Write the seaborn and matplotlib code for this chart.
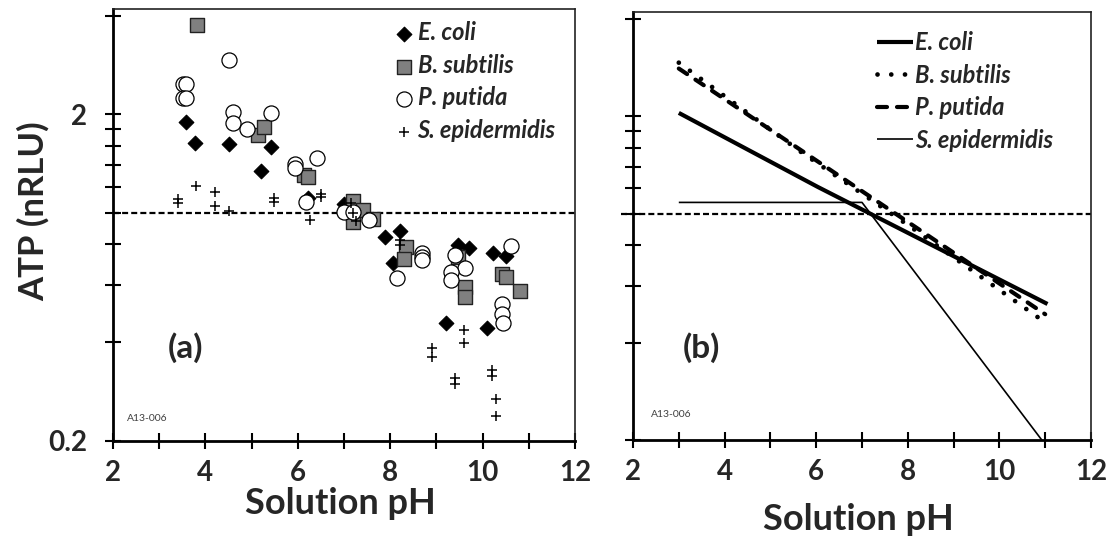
import matplotlib
matplotlib.use("Agg")
import matplotlib.pyplot as plt
from matplotlib.ticker import NullFormatter
import seaborn as sns
import pandas as pd

# ---------------- data: panel (a) measured points ----------------
ecoli_ph = [3.57, 3.77, 4.51, 5.41, 5.21, 6.23, 6.99, 7.89, 8.21, 8.05,
            9.47, 9.71, 10.23, 10.51, 9.21, 10.10]
ecoli_atp = [1.895, 1.634, 1.619, 1.589, 1.338, 1.111, 1.065, 0.842, 0.878, 0.698,
             0.798, 0.776, 0.749, 0.735, 0.459, 0.444]

bsub_ph = [3.81, 5.14, 5.27, 6.13, 6.21, 7.20, 7.20, 7.20, 7.42, 7.62,
           8.34, 8.30, 9.47, 9.62, 9.62, 10.41, 10.51, 10.81]
bsub_atp = [3.75, 1.725, 1.829, 1.301, 1.285, 1.085, 0.99, 0.936, 1.016, 0.958,
            0.785, 0.718, 0.731, 0.592, 0.551, 0.650, 0.635, 0.574]

pput_ph = [3.52, 3.58, 3.52, 3.58, 4.51, 4.60, 4.60, 4.89, 5.41, 5.94,
           5.94, 6.41, 6.17, 7.00, 7.20, 7.55, 8.68, 8.68, 8.68, 8.14,
           9.40, 9.62, 9.31, 9.31, 10.61, 10.41, 10.41, 10.45]
pput_atp = [2.48, 2.48, 2.25, 2.25, 2.94, 2.04, 1.88, 1.80, 2.02, 1.41,
            1.37, 1.47, 1.075, 1.004, 1.004, 0.947, 0.749, 0.731, 0.714, 0.630,
            0.743, 0.676, 0.658, 0.623, 0.788, 0.526, 0.487, 0.457]

sepi_ph = [3.41, 3.41, 3.80, 4.21, 4.21, 4.51, 5.49, 5.49, 6.26, 6.50,
           6.50, 7.15, 7.20, 7.25, 8.21, 8.21, 9.60, 9.60, 8.91, 8.91,
           9.41, 9.41, 10.20, 10.20, 10.30, 10.30]
sepi_atp = [1.104, 1.07, 1.204, 1.156, 1.045, 1.009, 1.108, 1.077, 0.947, 1.143,
            1.117, 1.07, 1.0, 0.94, 0.823, 0.794, 0.436, 0.399, 0.383, 0.361,
            0.312, 0.299, 0.329, 0.315, 0.2675, 0.2377]

# ---------------- data: panel (b) fitted curves ----------------
fit_ecoli_ph = [3.0, 6.04, 11.05]
fit_ecoli_atp = [2.05, 1.21, 0.527]
fit_bsub_ph = [3.0, 5.66, 8.11, 10.9]
fit_bsub_atp = [2.93, 1.556, 0.902, 0.473]
fit_pput_ph = [3.0, 5.77, 11.0]
fit_pput_atp = [2.81, 1.538, 0.49]
fit_sepi_ph = [3.0, 7.0, 10.93]
fit_sepi_atp = [1.085, 1.085, 0.2]

species = ["E. coli", "B. subtilis", "P. putida", "S. epidermidis"]
x_major = [2, 4, 6, 8, 10, 12]
x_minor = [3, 5, 7, 9, 11]
y_major = [0.2, 2]
y_major_labels = ["0.2", "2"]
y_minor = [0.4, 0.6, 0.8, 1.0, 1.2, 1.4, 1.6, 1.8, 4]
ref_level = 1.0

# ---------------- style ----------------
sns.set_style("white")
FAM = ["Lato", "DejaVu Sans"]
plt.rcParams["font.family"] = FAM

fig = plt.figure(figsize=(11.2, 5.44), dpi=100)
W, H = 1120, 544
ax1 = fig.add_axes([113 / W, 1 - 440.5 / H, 462 / W, 431.2 / H])
ax2 = fig.add_axes([633 / W, 1 - 440.3 / H, 458 / W, 428.3 / H])

# ---------------- panel (a) ----------------
df_a = pd.concat([
    pd.DataFrame({"pH": ecoli_ph, "ATP": ecoli_atp, "sp": species[0]}),
    pd.DataFrame({"pH": bsub_ph, "ATP": bsub_atp, "sp": species[1]}),
    pd.DataFrame({"pH": pput_ph, "ATP": pput_atp, "sp": species[2]}),
    pd.DataFrame({"pH": sepi_ph, "ATP": sepi_atp, "sp": species[3]}),
])

specs_a = {
    species[0]: dict(marker="D", s=56, color="black", edgecolor="black", linewidth=0.8),
    species[1]: dict(marker="s", s=105, color="#808080", edgecolor="#222222", linewidth=1.0),
    species[2]: dict(marker="o", s=118, color="white", edgecolor="black", linewidth=0.9),
    species[3]: dict(marker="+", s=50, color="black", linewidth=1.1),
}
for sp in species:
    sub = df_a[df_a["sp"] == sp]
    sns.scatterplot(data=sub, x="pH", y="ATP", ax=ax1, label=sp, zorder=3,
                    legend=False, **specs_a[sp])

# ---------------- panel (b) ----------------
fits = [
    (fit_ecoli_ph, fit_ecoli_atp, dict(linewidth=3.0, linestyle="-")),
    (fit_bsub_ph, fit_bsub_atp, dict(linewidth=3.4, linestyle=(0, (0.01, 2.9)))),
    (fit_pput_ph, fit_pput_atp, dict(linewidth=3.0, linestyle=(0, (2.4, 2.4)))),
    (fit_sepi_ph, fit_sepi_atp, dict(linewidth=1.2, linestyle="-")),
]
for sp, (xs, ys, kw) in zip(species, fits):
    sns.lineplot(x=xs, y=ys, ax=ax2, color="black", label=sp, legend=False,
                 sort=False, estimator=None, zorder=3, **kw)
    ln = ax2.lines[-1]
    ln.set_linestyle(kw["linestyle"])
    ln.set_dash_capstyle("round")
    ln.set_solid_capstyle("butt")

# ---------------- axes formatting ----------------
for ax, xmin in ((ax1, 0.0), (ax2, -0.026)):
    ax.set_yscale("log")
    ax.set_xlim(2, 12)
    ax.set_ylim(0.2, 4.2)
    ax.set_xticks(x_major)
    ax.set_xticks(x_minor, minor=True)
    ax.set_yticks(y_major, labels=y_major_labels)
    ax.set_yticks(y_minor, minor=True)
    ax.yaxis.set_minor_formatter(NullFormatter())
    ax.set_xlabel("")
    ax.set_ylabel("")
    ax.tick_params(which="both", direction="inout", length=11.5, width=1.5,
                   color="black", bottom=True, left=True, top=False, right=False)
    ax.tick_params(axis="x", which="major", pad=8, labelsize=20)
    ax.tick_params(axis="y", which="major", pad=13, labelsize=20)
    for lab in ax.get_xticklabels() + ax.get_yticklabels():
        lab.set_fontweight("bold")
    for side in ("left", "bottom"):
        ax.spines[side].set_linewidth(2.0)
        ax.spines[side].set_color("black")
    for side in ("top", "right"):
        ax.spines[side].set_linewidth(1.2)
        ax.spines[side].set_color("#222222")
    ax.axhline(ref_level, xmin=xmin, xmax=1.0, color="black", lw=1.6,
               ls=(0, (2.7, 1.4)), clip_on=False, zorder=2)
    ax.grid(False)

ax2.tick_params(axis="y", labelleft=False)

# legends
leg_prop = {"weight": "bold", "style": "italic", "size": 17, "family": FAM}
ax1.legend(loc="upper left", bbox_to_anchor=(0.6126, 0.972), frameon=False,
           prop=leg_prop, handlelength=0.66, handletextpad=0.25, labelspacing=0.4,
           borderpad=0, borderaxespad=0, scatterpoints=1)
ax2.legend(loc="upper left", bbox_to_anchor=(0.532, 0.955), frameon=False,
           prop=leg_prop, handlelength=1.53, handletextpad=0.08, labelspacing=0.4,
           borderpad=0, borderaxespad=0)

# panel labels and notes
ax1.text(0.119, 0.2145, "(a)", transform=ax1.transAxes, fontsize=24,
         fontweight="bold", ha="left", va="center")
ax2.text(0.109, 0.2155, "(b)", transform=ax2.transAxes, fontsize=24,
         fontweight="bold", ha="left", va="center")
ax1.text(0.03, 0.052, "A13-006", transform=ax1.transAxes, fontsize=7.5,
         color="#404040", ha="left", va="center")
ax2.text(0.0387, 0.061, "A13-006", transform=ax2.transAxes, fontsize=7.5,
         color="#404040", ha="left", va="center")

# axis titles
fig.text(33 / W, 1 - 211 / H, "ATP (nRLU)", rotation=90, ha="center", va="center",
         fontsize=25, fontweight="bold")
fig.text(340 / W, 1 - 503 / H, "Solution pH", ha="center", va="center",
         fontsize=26, fontweight="bold")
fig.text(858 / W, 1 - 519 / H, "Solution pH", ha="center", va="center",
         fontsize=26, fontweight="bold")

fig.savefig("out.png", dpi=100)
